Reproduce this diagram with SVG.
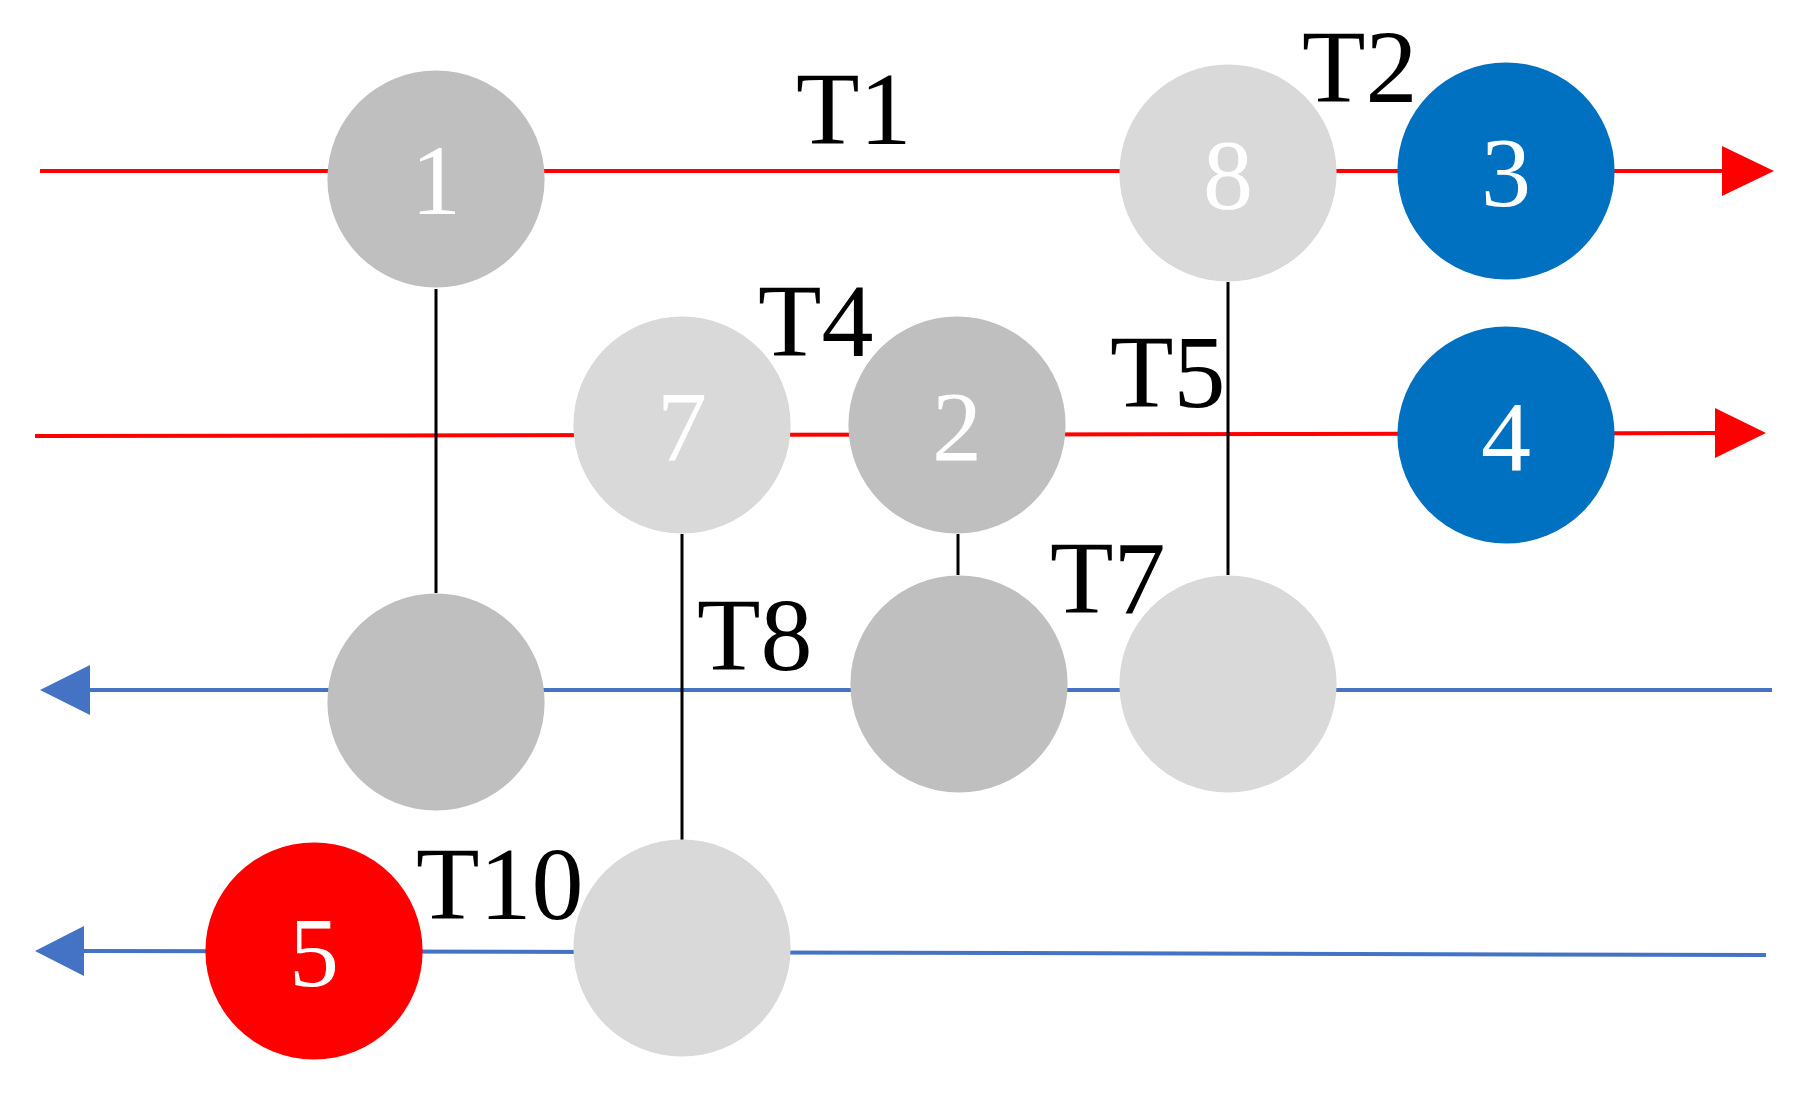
<svg xmlns="http://www.w3.org/2000/svg" width="1803" height="1107" viewBox="0 0 1803 1107">
<style>
.t{font-family:"Liberation Serif",serif;font-size:104px;fill:#000}
.n{font-family:"Liberation Serif",serif;font-size:100px;fill:#fff;text-anchor:middle}
.g{fill:#bfbfbf}.l{fill:#d9d9d9}.b{fill:#0070c0}.r{fill:#ff0000}
.v{stroke:#000;stroke-width:3}
</style>
<rect width="1803" height="1107" fill="#fff"/>
<g id="connectors">
<line x1="40" y1="171" x2="1724" y2="171" stroke="#ff0000" stroke-width="4"/>
<polygon points="1722,146 1774,171 1722,196" fill="#ff0000"/>
<polyline points="35,436 1300,434 1716,433" fill="none" stroke="#ff0000" stroke-width="4"/>
<polygon points="1715,408 1766,433 1715,458" fill="#ff0000"/>
<line x1="88" y1="690" x2="1772" y2="690" stroke="#4472c4" stroke-width="4"/>
<polygon points="90,665 40,690 90,715" fill="#4472c4"/>
<polyline points="82,951 600,952 1766,955" fill="none" stroke="#4472c4" stroke-width="4"/>
<polygon points="84,926 35,951 84,976" fill="#4472c4"/>
<line class="v" x1="436" y1="289" x2="436" y2="593"/>
<line class="v" x1="682" y1="534" x2="682" y2="840"/>
<line class="v" x1="958" y1="534" x2="958" y2="575"/>
<line class="v" x1="1228" y1="282" x2="1228" y2="575"/>
</g>
<g id="n1"><circle class="g" cx="436" cy="179" r="108.6"/><text class="n" x="436" y="214">1</text></g>
<g id="n8"><circle class="l" cx="1228" cy="173" r="108.6"/><text class="n" x="1228" y="208">8</text></g>
<g id="n3"><circle class="b" cx="1506" cy="171" r="108.6"/><text class="n" x="1506" y="206">3</text></g>
<g id="n7"><circle class="l" cx="682" cy="425" r="108.6"/><text class="n" x="682" y="460">7</text></g>
<g id="n2"><circle class="g" cx="957" cy="425" r="108.6"/><text class="n" x="957" y="460">2</text></g>
<g id="n4"><circle class="b" cx="1506" cy="435" r="108.6"/><text class="n" x="1506" y="470">4</text></g>
<g id="n1b"><circle class="g" cx="436" cy="702" r="108.6"/></g>
<g id="n2b"><circle class="g" cx="959" cy="684" r="108.6"/></g>
<g id="n8b"><circle class="l" cx="1228" cy="684" r="108.6"/></g>
<g id="n5"><circle class="r" cx="314" cy="951" r="108.6"/><text class="n" x="314" y="986">5</text></g>
<g id="n7b"><circle class="l" cx="682" cy="948" r="108.6"/></g>
<g id="labels">
<text class="t" x="796" y="144">T1</text>
<text class="t" x="1302" y="102">T2</text>
<text class="t" x="758" y="356">T4</text>
<text class="t" x="1110" y="407">T5</text>
<text class="t" x="1050" y="613">T7</text>
<text class="t" x="697" y="670">T8</text>
<text class="t" x="416" y="919">T10</text>
</g>
</svg>
